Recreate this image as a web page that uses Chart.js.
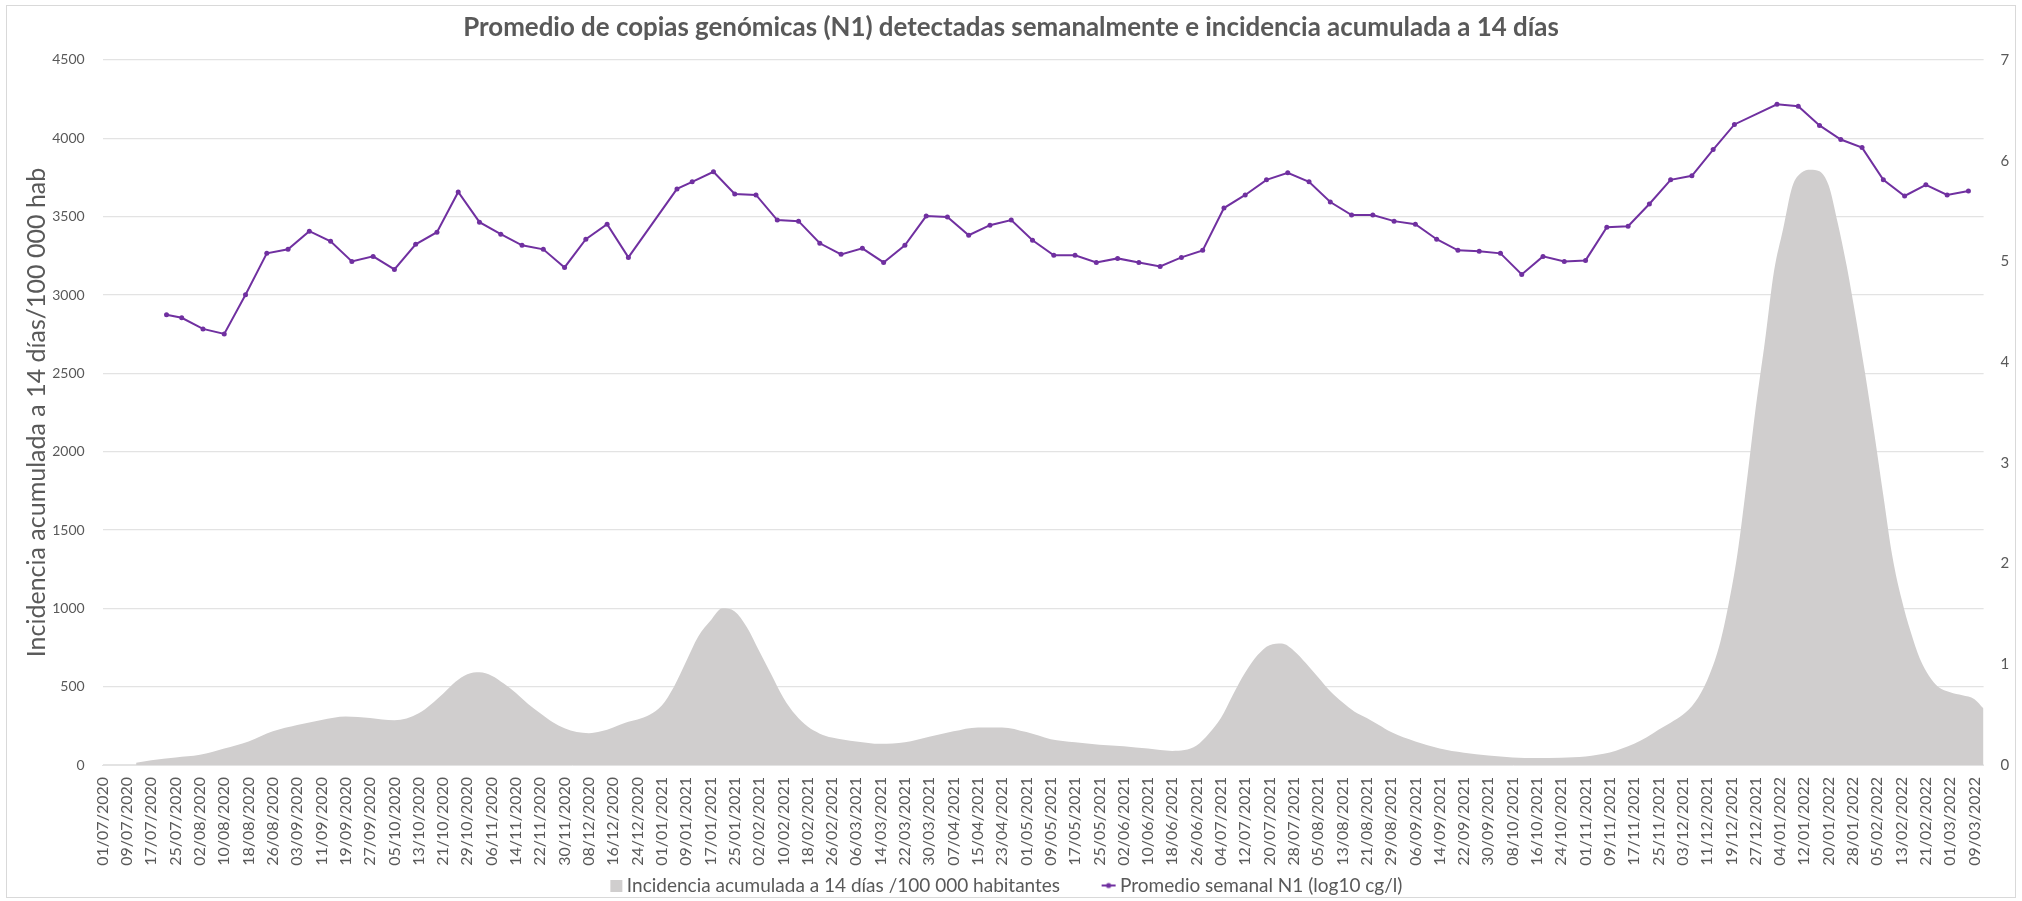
<!DOCTYPE html>
<html>
<head>
<meta charset="utf-8">
<script src="https://cdn.jsdelivr.net/npm/chart.js@4.4.0/dist/chart.umd.min.js"></script>
<style>
  html, body { margin: 0; padding: 0; background: #fff; overflow: hidden; }
  #wrap { position: relative; width: 2022px; height: 905px; }
  #frame { position: absolute; left: 6px; top: 5px; width: 2010px; height: 893px; border: 1px solid #d9d9d9; box-sizing: border-box; pointer-events: none; }
</style>
</head>
<body>
<div id="wrap">
  <canvas id="chart"></canvas>
  <div id="frame"></div>
</div>
<script>
// daily category axis, 01/07/2020 .. 12/03/2022
const firstDay = Date.UTC(2020, 6, 1);
const dayCount = 620;
const categories = [];
for (let i = 0; i < dayCount; i++) {
  const d = new Date(firstDay + i * 86400000);
  categories.push(String(d.getUTCDate()).padStart(2, '0') + '/' + String(d.getUTCMonth() + 1).padStart(2, '0') + '/' + d.getUTCFullYear());
}

// weekly N1 average (log10 cg/l), right axis
const n1Dates = ['22/07/2020','27/07/2020','03/08/2020','10/08/2020','17/08/2020','24/08/2020','31/08/2020','07/09/2020','14/09/2020','21/09/2020','28/09/2020','05/10/2020','12/10/2020','19/10/2020','26/10/2020','02/11/2020','09/11/2020','16/11/2020','23/11/2020','30/11/2020','07/12/2020','14/12/2020','21/12/2020',
  '06/01/2021','11/01/2021','18/01/2021','25/01/2021','01/02/2021','08/02/2021','15/02/2021','22/02/2021','01/03/2021','08/03/2021','15/03/2021','22/03/2021','29/03/2021','05/04/2021','12/04/2021','19/04/2021','26/04/2021','03/05/2021','10/05/2021','17/05/2021','24/05/2021','31/05/2021','07/06/2021','14/06/2021','21/06/2021','28/06/2021','05/07/2021','12/07/2021','19/07/2021','26/07/2021','02/08/2021','09/08/2021','16/08/2021','23/08/2021','30/08/2021','06/09/2021','13/09/2021','20/09/2021','27/09/2021','04/10/2021','11/10/2021','18/10/2021','25/10/2021','01/11/2021','08/11/2021','15/11/2021','22/11/2021','29/11/2021','06/12/2021','13/12/2021','20/12/2021',
  '03/01/2022','10/01/2022','17/01/2022','24/01/2022','31/01/2022','07/02/2022','14/02/2022','21/02/2022','28/02/2022','07/03/2022'];
const n1Values = [4.47,4.44,4.33,4.28,4.67,5.08,5.12,5.30,5.20,5.00,5.05,4.92,5.17,5.29,5.69,5.39,5.27,5.16,5.12,4.94,5.22,5.37,5.04,
  5.72,5.79,5.89,5.67,5.66,5.41,5.40,5.18,5.07,5.13,4.99,5.16,5.45,5.44,5.26,5.36,5.41,5.21,5.06,5.06,4.99,5.03,4.99,4.95,5.04,5.11,5.53,5.66,5.81,5.88,5.79,5.59,5.46,5.46,5.40,5.37,5.22,5.11,5.10,5.08,4.87,5.05,5.00,5.01,5.34,5.35,5.57,5.81,5.85,6.11,6.36,
  6.56,6.54,6.35,6.21,6.13,5.81,5.65,5.76,5.66,5.70];

// 14-day cumulative incidence per 100 000, left axis
const incDates = ['12/07/2020','17/07/2020','25/07/2020','02/08/2020','10/08/2020','18/08/2020','26/08/2020','03/09/2020','11/09/2020','19/09/2020','27/09/2020','05/10/2020','13/10/2020','21/10/2020','25/10/2020','29/10/2020','02/11/2020','06/11/2020','10/11/2020','14/11/2020','18/11/2020','22/11/2020','26/11/2020','30/11/2020','04/12/2020','08/12/2020','12/12/2020','16/12/2020','20/12/2020','24/12/2020','28/12/2020',
  '01/01/2021','05/01/2021','09/01/2021','13/01/2021','17/01/2021','21/01/2021','25/01/2021','29/01/2021','02/02/2021','06/02/2021','10/02/2021','14/02/2021','18/02/2021','22/02/2021','26/02/2021','06/03/2021','14/03/2021','22/03/2021','30/03/2021','07/04/2021','15/04/2021','23/04/2021','01/05/2021','09/05/2021','17/05/2021','25/05/2021','02/06/2021','10/06/2021','18/06/2021','22/06/2021','26/06/2021','30/06/2021',
  '04/07/2021','08/07/2021','12/07/2021','16/07/2021','20/07/2021','24/07/2021','28/07/2021','01/08/2021','05/08/2021','09/08/2021','13/08/2021','17/08/2021','21/08/2021','25/08/2021','29/08/2021','06/09/2021','14/09/2021','22/09/2021','30/09/2021','08/10/2021','16/10/2021','24/10/2021','01/11/2021','09/11/2021','13/11/2021','17/11/2021','21/11/2021','25/11/2021','29/11/2021','03/12/2021','07/12/2021','11/12/2021','15/12/2021','18/12/2021','21/12/2021','24/12/2021','27/12/2021','30/12/2021',
  '02/01/2022','05/01/2022','08/01/2022','11/01/2022','14/01/2022','17/01/2022','20/01/2022','23/01/2022','26/01/2022','29/01/2022','01/02/2022','04/02/2022','07/02/2022','10/02/2022','13/02/2022','16/02/2022','19/02/2022','22/02/2022','25/02/2022','01/03/2022','05/03/2022','09/03/2022','12/03/2022'];
const incValues = [15,30,48,65,105,150,215,255,288,310,300,285,330,455,530,580,592,570,520,460,390,330,275,235,210,203,215,240,270,290,320,
  380,500,660,820,920,1000,980,880,730,580,430,320,245,200,175,150,135,145,180,215,240,240,210,165,145,130,120,105,90,95,125,200,
  300,450,590,700,765,775,730,650,560,470,400,340,300,255,210,150,105,78,60,48,45,47,55,80,105,135,175,225,270,320,400,540,760,1020,1350,1800,2280,2700,
  3150,3420,3690,3780,3800,3790,3700,3460,3180,2850,2500,2120,1720,1330,1060,850,680,570,500,465,445,420,360];

const TEXT = '#595959';
const GRID = '#e3e3e3';
const GRAY = '#d0cece';
const PURPLE = '#7030a0';

Chart.defaults.font.family = "Lato, 'Open Sans', sans-serif";
Chart.defaults.color = TEXT;

// legend icons, drawn right of centre so they sit close to their text
const boxIcon = document.createElement('canvas');
boxIcon.width = 24; boxIcon.height = 12;
boxIcon.getContext('2d').fillStyle = GRAY;
boxIcon.getContext('2d').fillRect(11, 0, 12, 12);

const lineIcon = document.createElement('canvas');
lineIcon.width = 26; lineIcon.height = 10;
(function() {
  const c = lineIcon.getContext('2d');
  c.strokeStyle = PURPLE; c.lineWidth = 2;
  c.beginPath(); c.moveTo(10, 5); c.lineTo(24, 5); c.stroke();
  c.fillStyle = PURPLE;
  c.beginPath(); c.arc(17, 5, 2.6, 0, Math.PI * 2); c.fill();
})();

const incPoints = incDates.map((d, i) => ({ x: d, y: incValues[i] }));
const n1Points = n1Dates.map((d, i) => ({ x: d, y: n1Values[i] }));

new Chart(document.getElementById('chart'), {
  type: 'line',
  data: {
    labels: categories,
    datasets: [
      {
        label: 'Incidencia acumulada a 14 días /100 000 habitantes',
        data: incPoints,
        yAxisID: 'y',
        fill: 'origin',
        backgroundColor: GRAY,
        borderColor: GRAY,
        borderWidth: 0,
        pointRadius: 0,
        cubicInterpolationMode: 'monotone',
        order: 2
      },
      {
        label: 'Promedio semanal N1 (log10 cg/l)',
        data: n1Points,
        yAxisID: 'y1',
        fill: false,
        borderColor: PURPLE,
        backgroundColor: PURPLE,
        borderWidth: 2,
        pointRadius: 2.5,
        pointBorderWidth: 0,
        tension: 0,
        order: 1
      }
    ]
  },
  options: {
    responsive: true,
    maintainAspectRatio: false,
    animation: false,
    layout: { padding: { left: 8, right: 8, top: 0, bottom: 0 } },
    plugins: {
      tooltip: { enabled: false },
      title: {
        display: true,
        text: 'Promedio de copias genómicas (N1) detectadas semanalmente e incidencia acumulada a 14 días',
        color: TEXT,
        font: { size: 25.9, weight: 'bold' },
        padding: { top: 12.5, bottom: 16.4 }
      },
      legend: {
        position: 'bottom',
        labels: {
          padding: 10,
          color: TEXT,
          font: { size: 19 },
          usePointStyle: true,
          pointStyleWidth: 12,
          sort: (a, b) => a.datasetIndex - b.datasetIndex,
          generateLabels(chart) {
            const items = Chart.defaults.plugins.legend.labels.generateLabels(chart);
            items.forEach(it => {
              if (it.datasetIndex === 0) {
                it.pointStyle = boxIcon;
                it.text = it.text + '\u2003\u2003';
              } else {
                it.pointStyle = lineIcon;
                it.text = it.text + '\u2003';
              }
            });
            return items;
          }
        }
      }
    },
    scales: {
      x: {
        type: 'category',
        grid: { display: false, drawTicks: false },
        border: { color: GRID, width: 1 },
        ticks: {
          autoSkip: false,
          maxRotation: 90,
          minRotation: 90,
          padding: 12,
          color: TEXT,
          font: { size: 16 },
          callback: (v, i) => (i % 8 === 0 ? categories[i] : '')
        },
        afterFit: s => { s.height = 101; }
      },
      y: {
        position: 'left',
        min: 0,
        max: 4500,
        ticks: { stepSize: 500, padding: 18, color: TEXT, font: { size: 14 }, callback: v => String(v) },
        grid: { color: GRID, lineWidth: 1.3, drawTicks: false },
        border: { display: false },
        title: {
          display: true,
          text: 'Incidencia acumulada a 14 días/100 000 hab',
          color: TEXT,
          font: { size: 25 },
          padding: { top: 14, bottom: 0 }
        },
        afterFit: s => { s.width = 94.7; }
      },
      y1: {
        position: 'right',
        min: 0,
        max: 7,
        ticks: { stepSize: 1, padding: 17, color: TEXT, font: { size: 15 }, callback: v => String(v) },
        grid: { display: false, drawTicks: false },
        border: { display: false },
        afterFit: s => { s.width = 30.4; }
      }
    }
  }
});
</script>
</body>
</html>
